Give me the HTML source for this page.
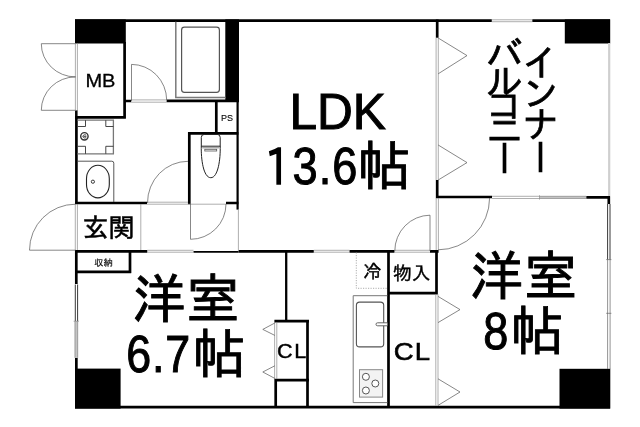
<!DOCTYPE html>
<html lang="ja">
<head>
<meta charset="utf-8">
<title>間取り図</title>
<style>
html,body{margin:0;padding:0;background:#fff;}
body{width:640px;height:427px;overflow:hidden;position:relative;}
svg{position:absolute;left:0;top:0;display:block;will-change:transform;}
.v{will-change:transform;}
.vt{position:absolute;width:37px;writing-mode:vertical-rl;font-family:"Liberation Sans","IPAGothic",sans-serif;font-size:37px;line-height:37px;white-space:nowrap;color:#000;-webkit-text-stroke:0.7px #000;}
.w{stroke:#000;stroke-width:2.7;fill:none;stroke-linecap:butt;}
.k{fill:#000;stroke:none;}
.t{stroke:#555;stroke-width:0.7;fill:none;}
.g{stroke:#8c8c8c;stroke-width:0.7;fill:none;}
.d{stroke:#222;stroke-width:0.9;fill:none;}
.f{stroke:#444;stroke-width:0.9;fill:none;}
.wh{fill:#fff;stroke:none;}
text{fill:#000;}
.jp{font-family:"Liberation Sans","IPAGothic",sans-serif;stroke:#000;stroke-width:0.9;stroke-linejoin:miter;}
.la{font-family:"Liberation Sans","IPAGothic",sans-serif;stroke:#000;stroke-width:1;}
.ip{font-family:"IPAPGothic","IPAGothic","Liberation Sans",sans-serif;stroke:#000;stroke-width:1.1;}
</style>
</head>
<body>
<svg width="640" height="427" viewBox="0 0 640 427">
<rect class="wh" x="0" y="0" width="640" height="427"/>

<!-- ===== pillars / solid walls ===== -->
<rect class="k" x="75" y="19.4" width="50.8" height="24.1"/>
<rect class="k" x="225.3" y="19.4" width="13.7" height="82.6"/>
<rect class="k" x="564.8" y="19.4" width="45.4" height="24.1"/>
<rect class="k" x="75" y="368.6" width="45.6" height="40"/>
<rect class="k" x="559.5" y="368.8" width="50.8" height="39.8"/>

<!-- ===== thick walls ===== -->
<!-- top wall -->
<path class="w" d="M75 20.7H491.8M532.3 20.7H610"/>
<!-- bottom wall -->
<path class="w" d="M75 407.2H610"/>
<!-- MB right + bottom -->
<path class="w" d="M124.6 42V118.6M75 117.3H125.8"/>
<!-- bathroom bottom wall -->
<path class="w" d="M124.6 101H131.2M166.6 100.8H239"/>
<!-- left wall (washroom) -->
<path class="w" d="M76.4 110.4V204"/>
<!-- washroom bottom -->
<path class="w" d="M75 203H147"/>
<!-- PS box -->
<path class="w" d="M216.3 101V133"/><path class="w" style="stroke-width:2.2" d="M237.6 100V209.6"/>
<!-- toilet room -->
<path class="w" d="M188 133.3H238.4M189.3 132V204.3M226 203H238.4"/>
<!-- genkan lower wall -->
<path class="w" d="M75 251.3H147.3M238.6 251.3H313.8M349.5 251.3H394.5M430 251.3H438.6"/>
<path d="M193.5 251.8H238.6" style="stroke:#000;stroke-width:1.7;fill:none"/>
<!-- shuno box -->
<path class="w" d="M76.3 250V284M75 271.8H131.2M130 250V273"/>
<!-- left wall lower -->
<path class="w" d="M76.35 357.8V370"/>
<!-- room divider -->
<path class="w" style="stroke-width:2.3" d="M286.2 250V321"/>
<!-- left CL -->
<path class="w" d="M274.4 321.1H309M307.5 320V408M274.4 380.2H309M275.7 379V408"/>
<!-- monoire / right CL -->
<path class="w" d="M388.5 250V408M387.3 293.2H437.8M436.5 250V294.4"/>
<!-- balcony walls -->
<path class="w" d="M437.2 19.5V37.8M437.2 180V198.2M436 197H492M586.2 197.4H610M608.8 196.2V204"/>

<!-- ===== thin lines ===== -->
<!-- top window -->
<path class="g" d="M491.8 19.8H532.3M491.8 21.7H532.3"/>
<!-- MB double door -->
<path class="g" d="M75.4 43.5V110.4M77.4 43.5V116"/>
<path class="t" d="M75.5 43.7H41.3A34.2 33.2 0 0 0 75.5 76.9M75.5 110.3H41.3A34.2 33.4 0 0 1 75.5 76.9"/>
<!-- bathroom door -->
<path class="g" d="M131.2 99.9H166.6M131.2 102.2H166.6"/>
<path class="t" d="M131.5 101V64.4A35.2 36 0 0 1 166.7 100"/>
<!-- bathtub -->
<path d="M175.8 21.7V97.5H225.5" style="stroke:#7a7a7a;stroke-width:1.5;fill:none"/>
<rect x="181.6" y="27.2" width="37.8" height="65.2" rx="2.8" ry="2.8" style="stroke:#555;stroke-width:1.2;fill:none"/>
<!-- washing machine pan -->
<path d="M77.5 120.2H113.4V153.8H77.5" style="stroke:#777;stroke-width:1.3;fill:none"/>
<path d="M77.5 126.5H85.5V120.2M105.8 120.2V126.5H113.4M77.5 146.3H85.5V153.8M105.8 153.8V146.3H113.4" style="stroke:#333;stroke-width:0.9;fill:none"/>
<circle cx="84.4" cy="136.3" r="3.7" style="stroke:#333;stroke-width:1.4;fill:#fff"/>
<path d="M86.2 135.2A2 1.6 0 1 0 86.2 137.6M83.4 136.4H86.4" style="stroke:#333;stroke-width:0.9;fill:none"/>
<!-- wash basin -->
<path d="M77.5 161.2H111.8Q113.8 161.2 113.8 163.2V202" style="stroke:#444;stroke-width:0.9;fill:none"/>
<rect x="86.5" y="165.3" width="22.8" height="32.6" rx="11.4" ry="13.5" style="stroke:#222;stroke-width:1.1;fill:none"/>
<circle cx="92.9" cy="181.7" r="1.6" style="stroke:#222;stroke-width:0.9;fill:none"/>
<!-- washroom door -->
<path class="g" d="M147 202.2H188M147 204.2H226"/>
<path class="t" d="M147.5 203A40.5 41.5 0 0 1 188 161.3"/>
<!-- toilet door -->
<path class="t" d="M190.5 204V239.3A35.5 35.3 0 0 0 226 204"/>
<!-- toilet fixture -->
<path d="M201.3 146.2V137.4Q201.3 134.4 204.3 134.4H217.2Q220.2 134.4 220.2 137.4V146.2Z" style="stroke:#222;stroke-width:1;fill:none"/>
<path d="M201.3 146C200.9 159 203.4 177.7 210.8 177.7C218.1 177.7 220.6 159 220.2 146" style="stroke:#222;stroke-width:1;fill:none"/>
<path d="M202.2 147.8H219.3" style="stroke:#666;stroke-width:0.8;fill:none"/>
<rect x="204.8" y="149.3" width="11.9" height="1.7" style="stroke:#555;stroke-width:0.8;fill:none"/>
<!-- genkan -->
<path class="g" d="M75.3 204V250M77.4 204V250M140.8 204V250"/>
<path class="t" d="M75.5 204.2A46 46 0 0 0 29.5 250.2H75.5"/>
<path class="g" d="M147.3 250.3H193.5M147.3 252.2H193.5"/>
<!-- toilet right thin wall -->
<path class="g" d="M238.4 210V251"/>
<!-- left window lower room -->
<path class="d" d="M75.3 284.5V321M77.6 284.5V321"/>
<rect x="74.7" y="321" width="3.3" height="36.8" style="fill:#c4c4c4;stroke:none"/>
<path class="g" d="M75 321V357.8M77.7 321V357.8M73.6 321.2H79"/>
<!-- LDK / room door gap -->
<path class="g" d="M313.8 250.3H349.5M313.8 252.2H349.5"/>
<!-- left CL folding doors -->
<path class="g" d="M274.6 322V379M276.8 322V379"/>
<path class="t" d="M274.8 323L262.8 329.4L274.8 335.4M274.8 365.8L262.8 372L274.8 378.4"/>
<!-- fridge -->
<path style="stroke:#999;stroke-width:0.8;fill:none" stroke-dasharray="1.2 1.3" d="M356.3 252.5V288.3H387.3"/>
<!-- kitchen -->
<path d="M387.3 295.7H353.2V402.6H387.3" style="stroke:#777;stroke-width:1;fill:none"/>
<rect x="356.4" y="302.1" width="27.3" height="44.8" rx="3.2" ry="3.2" style="stroke:#555;stroke-width:1.1;fill:none"/>
<path d="M387.3 322.8H377.6Q376 322.8 376 324.3Q376 325.8 377.6 325.8H387.3" style="stroke:#555;stroke-width:0.9;fill:#fff"/>
<rect x="359.5" y="369.7" width="23.1" height="27.4" style="stroke:#888;stroke-width:1;fill:#f3f3f3"/>
<circle cx="365.9" cy="376.8" r="3.5" style="stroke:#444;stroke-width:0.9;fill:#fff"/>
<circle cx="375.3" cy="383.5" r="3.5" style="stroke:#444;stroke-width:0.9;fill:#fff"/>
<circle cx="365.9" cy="390.5" r="3.5" style="stroke:#444;stroke-width:0.9;fill:#fff"/>
<!-- monoire door -->
<path class="g" d="M394.5 250.3H430M394.5 252.2H430"/>
<path class="t" d="M430 251V215.2A35.5 35.8 0 0 0 394.8 251"/>
<!-- right CL folding doors -->
<path class="g" d="M435.8 294.4V405.6M438 294.4V405.6"/>
<path class="t" d="M438 296.4L460 309.6L438 322.6M438 378.8L460 392L438 405.4"/>
<!-- bedroom door -->
<path class="g" d="M436.2 198V250M438.4 198V250"/>
<path class="t" d="M489.6 198A51.5 52 0 0 1 438.2 249.8"/>
<!-- balcony sliding window (left) -->
<path class="g" d="M436.1 37.8V180M438.3 37.8V180"/>
<path class="t" d="M438.2 38L467 55.6L438.2 73.8M438.2 145L467 162.6L438.2 180"/>
<!-- balcony bottom window -->
<rect x="539.5" y="196.1" width="46.7" height="2.5" style="fill:#c4c4c4;stroke:none"/>
<path class="g" d="M492 196.3H586.2M492 198.5H586.2M539.5 195.2V199.6"/>
<!-- balcony right wall -->
<path style="stroke:#cfcfcf;stroke-width:2.2;fill:none" d="M609.2 43V196"/>
<!-- right room window -->
<path class="d" d="M607.6 204V259.6M610 204V259.6"/>
<path class="g" style="stroke:#666" d="M607.6 259.6V369M610.1 259.6V369M606.2 259.6H611.4M606.2 313.3H611.4"/>

<!-- ===== labels ===== -->
<g transform="translate(85.4 86.6) scale(1.05 1)"><text class="la" x="0" y="0" font-size="19.1" style="stroke-width:0.3">MB</text></g>
<text class="la" x="221" y="120.6" font-size="9" style="stroke-width:0.1">PS</text>
<text class="la" x="289.4" y="129.3" font-size="49.6">LDK</text>
<g transform="translate(265.6 183.9) scale(0.8 1)"><text class="ip" x="0" y="0" font-size="48.4" style="stroke-width:1.6">1</text></g>
<g transform="translate(292.5 184) scale(0.875 1)"><text class="la" x="0" y="0" font-size="51.6" letter-spacing="1.2">3.6</text></g>
<text class="jp" x="357.6" y="184.8" font-size="53.5">帖</text>
<text class="jp" x="82.6" y="237.4" font-size="26" style="stroke-width:0.55">玄関</text>
<text class="jp" x="94.2" y="265.8" font-size="9.2" style="stroke-width:0.15">収納</text>
<text class="jp" x="132.2" y="318" font-size="53.5" textLength="107.6" lengthAdjust="spacing">洋室</text>
<g transform="translate(126.3 371.9) scale(0.87 1)"><text class="la" x="0" y="0" font-size="51.5" letter-spacing="0.9">6.7</text></g>
<text class="jp" x="192.6" y="373.2" font-size="53.5">帖</text>
<g transform="translate(277.1 358.2) scale(1.12 1)"><text class="la" x="0" y="0" font-size="19.3" style="stroke-width:0.4">C<tspan dx="1.4">L</tspan></text></g>
<text class="jp" x="363" y="277.8" font-size="18.6" style="stroke-width:0.4">冷</text>
<text class="jp" x="392.9" y="279.7" font-size="18.8" style="stroke-width:0.4">物入</text>
<g transform="translate(393.8 360.4) scale(1.11 1)"><text class="la" x="0" y="0" font-size="24.8" style="stroke-width:0.6">C<tspan dx="0.9">L</tspan></text></g>
<text class="jp" x="469.8" y="295.4" font-size="53.5" textLength="107.6" lengthAdjust="spacing">洋室</text>
<g transform="translate(483.2 348.7) scale(0.875 1)"><text class="la" x="0" y="0" font-size="51.5">8</text></g>
<text class="jp" x="510.4" y="349.8" font-size="53.5">帖</text>
</svg>

<!-- vertical labels -->
<div class="v vt" style="left:520.4px;top:42.5px;letter-spacing:-6px;">イン<span style="letter-spacing:-3.2px">ナ</span>ー</div>
<div class="v vt" style="left:483.9px;top:35px;letter-spacing:-9.7px;">バ<span style="letter-spacing:-13.8px">ル</span><span style="letter-spacing:-11.7px">コ</span><span style="letter-spacing:-7.8px">ニ</span>ー</div>
</body>
</html>
